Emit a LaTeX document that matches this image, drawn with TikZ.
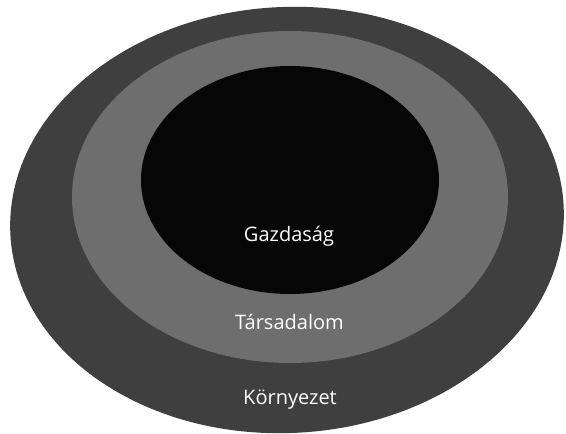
\documentclass[tikz,border=0pt]{standalone}
\usepackage{fontspec}
\setmainfont{Open Sans}
\definecolor{outerc}{HTML}{3F3F3F}
\definecolor{midc}{HTML}{6E6E6E}
\definecolor{innerc}{HTML}{060606}
\begin{document}
\begin{tikzpicture}[x=1pt,y=1pt,
  lbl/.style={text=white,font=\fontsize{20}{24}\selectfont,anchor=base,inner sep=0pt}]
\useasboundingbox (0,0) rectangle (566,434);
\fill[outerc,rotate around={3:(287,214)}] (287,214) ellipse [x radius=277,y radius=213];
\fill[midc] (290,237) ellipse [x radius=218,y radius=166];
\fill[innerc] (290,254) ellipse [x radius=149,y radius=114];
\node[lbl] (g) at (289,192) {Gazdaság};
\node[lbl] (t) at (289.5,104) {Társadalom};
\node[lbl] (k) at (290,29) {Környezet};
\end{tikzpicture}
\end{document}
